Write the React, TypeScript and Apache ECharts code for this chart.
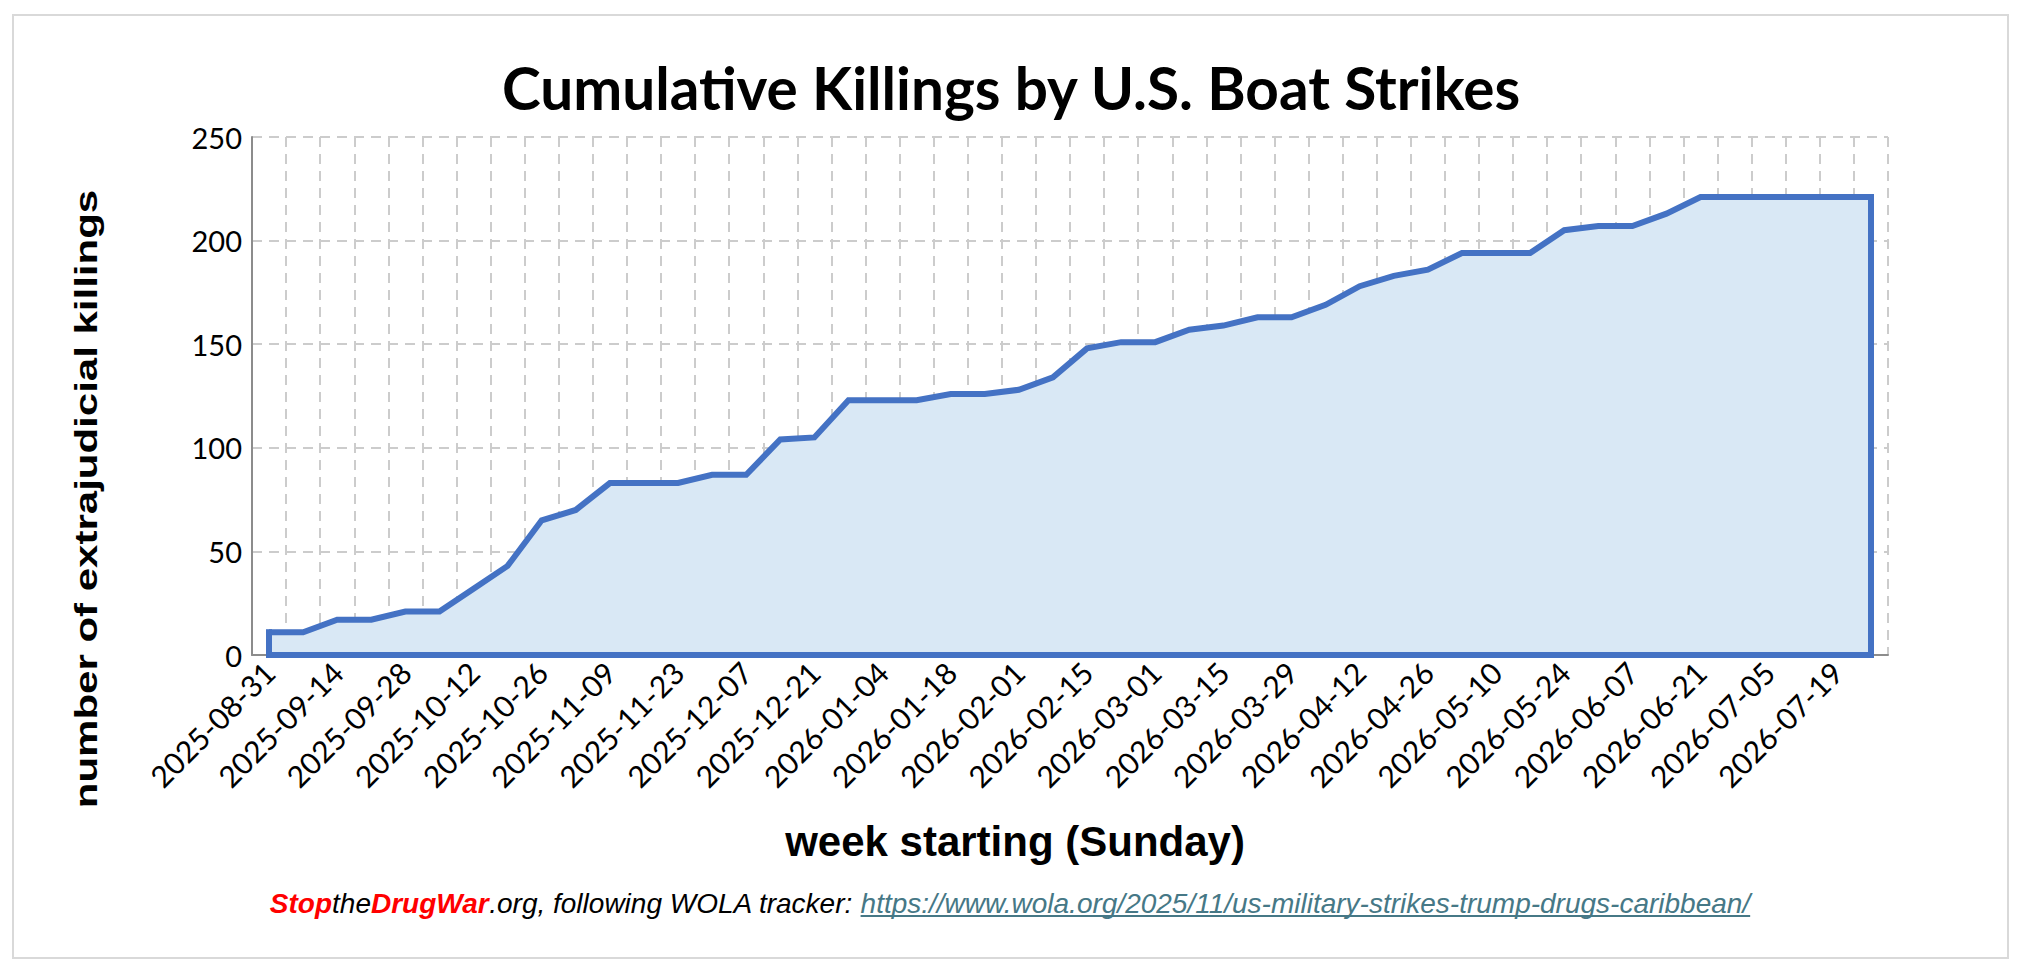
import * as echarts from "echarts";
import { useEffect, useRef } from "react";

const categories = [
  "2025-08-31", "2025-09-07", "2025-09-14", "2025-09-21", "2025-09-28", "2025-10-05",
  "2025-10-12", "2025-10-19", "2025-10-26", "2025-11-02", "2025-11-09", "2025-11-16",
  "2025-11-23", "2025-11-30", "2025-12-07", "2025-12-14", "2025-12-21", "2025-12-28",
  "2026-01-04", "2026-01-11", "2026-01-18", "2026-01-25", "2026-02-01", "2026-02-08",
  "2026-02-15", "2026-02-22", "2026-03-01", "2026-03-08", "2026-03-15", "2026-03-22",
  "2026-03-29", "2026-04-05", "2026-04-12", "2026-04-19", "2026-04-26", "2026-05-03",
  "2026-05-10", "2026-05-17", "2026-05-24", "2026-05-31", "2026-06-07", "2026-06-14",
  "2026-06-21", "2026-06-28", "2026-07-05", "2026-07-12", "2026-07-19", "2026-07-26"
];

const killings = [
  11, 11, 17, 17, 21, 21,
  32, 43, 65, 70, 83, 83,
  83, 87, 87, 104, 105, 123,
  123, 123, 126, 126, 128, 134,
  148, 151, 151, 157, 159, 163,
  163, 169, 178, 183, 186, 194,
  194, 194, 205, 207, 207, 213,
  221, 221, 221, 221, 221, 221
];

const yMin = 0;
const yMax = 250;
const yStep = 50;

const titleText = "Cumulative Killings by U.S. Boat Strikes";
const yTitle = "number of extrajudicial killings";
const xTitle = "week starting (Sunday)";
const footerParts = [
  { text: "Stop", style: "red" },
  { text: "the", style: "plain" },
  { text: "DrugWar", style: "red" },
  { text: ".org, following WOLA tracker: ", style: "plain" },
  { text: "https://www.wola.org/2025/11/us-military-strikes-trump-drugs-caribbean/", style: "link" }
];

const BLUE = "#4472c4";
const GRID = "#cccccc";
const AXIS = "#8c8c8c";
const LINK = "#467886";

function measureFooter(fontSize: number) {
  const ctx = document.createElement("canvas").getContext("2d");
  return footerParts.map((p) => {
    if (!ctx) return p.text.length * fontSize * 0.48;
    ctx.font = `italic ${p.style === "red" ? "bold " : ""}${fontSize}px "Liberation Sans"`;
    return ctx.measureText(p.text).width;
  });
}

export default function App() {
  const ref = useRef<HTMLDivElement | null>(null);

  useEffect(() => {
    if (!ref.current) return;
    const chart = echarts.init(ref.current, undefined, { renderer: "svg" });
    const last = categories.length - 1;

    const footerSize = 28;
    const footerX = 1010;
    const footerY = 903;
    const widths = measureFooter(footerSize);
    const total = widths.reduce((a, b) => a + b, 0);
    const linkStart = footerX - total / 2 + widths.slice(0, 4).reduce((a, b) => a + b, 0);
    const linkEnd = linkStart + widths[4];

    const gridLine = { color: GRID, width: 2, type: [10, 7] as number[] };

    chart.setOption({
      animation: false,
      backgroundColor: "#ffffff",
      grid: { left: 252, right: 134, top: 137, bottom: 311, outerBoundsMode: "none" },
      xAxis: {
        type: "category",
        data: categories,
        boundaryGap: true,
        axisLine: { show: true, lineStyle: { color: AXIS, width: 2 } },
        axisTick: { show: false },
        axisLabel: {
          interval: 1,
          rotate: 45,
          margin: 12,
          fontFamily: "Lato",
          fontSize: 30,
          color: "#000000"
        },
        splitLine: { show: true, interval: 0, lineStyle: gridLine }
      },
      yAxis: {
        type: "value",
        min: yMin,
        max: yMax,
        interval: yStep,
        axisLine: { show: true, lineStyle: { color: AXIS, width: 2 } },
        axisTick: { show: false },
        axisLabel: { margin: 10, fontFamily: "Lato", fontSize: 29, color: "#000000" },
        splitLine: { show: true, lineStyle: gridLine }
      },
      series: [
        {
          type: "line",
          data: killings,
          symbol: "none",
          silent: true,
          lineStyle: { color: BLUE, width: 6, join: "miter" },
          areaStyle: { color: "#d9e8f5", opacity: 1 },
          markLine: {
            silent: true,
            symbol: ["none", "none"],
            label: { show: false },
            lineStyle: { color: BLUE, width: 6, type: "solid", cap: "square" },
            emphasis: { disabled: true },
            data: [
              [{ coord: [categories[0], 0] }, { coord: [categories[0], killings[0]] }],
              [{ coord: [categories[0], 0] }, { coord: [categories[last], 0] }],
              [{ coord: [categories[last], 0] }, { coord: [categories[last], killings[last]] }]
            ]
          }
        }
      ],
      graphic: [
        {
          type: "rect",
          z: -10,
          shape: { x: 13, y: 15, width: 1995, height: 943 },
          style: { fill: "none", stroke: "#d9d9d9", lineWidth: 2 }
        },
        {
          type: "text",
          x: 1011,
          y: 87,
          style: {
            text: titleText,
            fontFamily: "Lato",
            fontWeight: "bold",
            fontSize: 58.5,
            fill: "#000000",
            align: "center",
            verticalAlign: "middle"
          }
        },
        {
          type: "text",
          x: 86,
          y: 499,
          rotation: Math.PI / 2,
          scaleY: 0.74,
          style: {
            text: yTitle,
            fontFamily: "Liberation Sans",
            fontWeight: "bold",
            fontSize: 42,
            fill: "#000000",
            align: "center",
            verticalAlign: "middle"
          }
        },
        {
          type: "text",
          x: 1015,
          y: 841,
          style: {
            text: xTitle,
            fontFamily: "Liberation Sans",
            fontWeight: "bold",
            fontSize: 42,
            fill: "#000000",
            align: "center",
            verticalAlign: "middle"
          }
        },
        {
          type: "text",
          x: footerX,
          y: footerY,
          style: {
            text: footerParts.map((p) => `{${p.style}|${p.text}}`).join(""),
            fontFamily: "Liberation Sans",
            fontStyle: "italic",
            fontSize: footerSize,
            align: "center",
            verticalAlign: "middle",
            rich: {
              red: {
                fontFamily: "Liberation Sans",
                fontStyle: "italic",
                fontWeight: "bold",
                fontSize: footerSize,
                fill: "#ff0000"
              },
              plain: {
                fontFamily: "Liberation Sans",
                fontStyle: "italic",
                fontSize: footerSize,
                fill: "#000000"
              },
              link: {
                fontFamily: "Liberation Sans",
                fontStyle: "italic",
                fontSize: footerSize,
                fill: LINK
              }
            }
          }
        },
        {
          type: "line",
          shape: { x1: linkStart, y1: 916, x2: linkEnd, y2: 916 },
          style: { stroke: LINK, lineWidth: 2 }
        }
      ]
    });

    return () => {
      chart.dispose();
    };
  }, []);

  return (
    <div
      ref={ref}
      style={{ position: "absolute", left: 0, top: 0, width: 2022, height: 966, background: "#ffffff" }}
    />
  );
}
